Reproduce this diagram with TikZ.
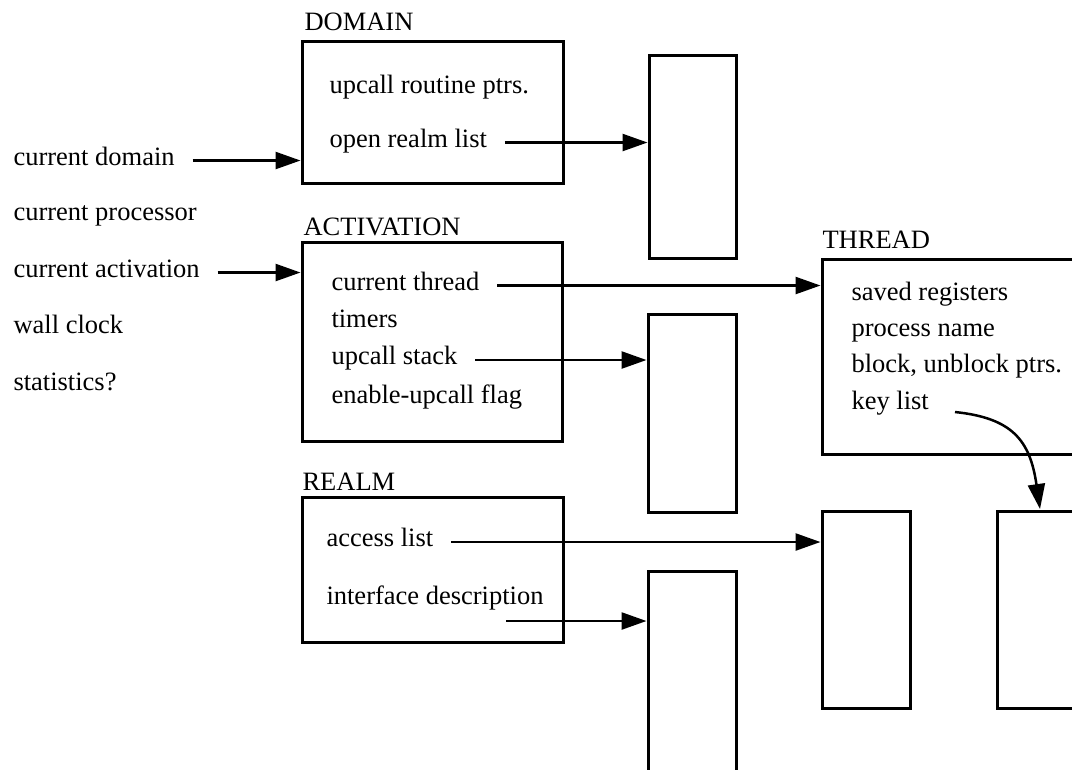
\documentclass[tikz,border=0pt]{standalone}
\usepackage{fontspec}
\setmainfont{Liberation Serif}
\usepackage{tikz}
\usetikzlibrary{arrows.meta, fit, positioning}

\begin{document}
\begin{tikzpicture}[
		x=0.4pt, y=-0.4pt,
		font=\fontsize{10.6}{13}\selectfont,
		box/.style={draw, line width=1.2pt, inner sep=0pt, rectangle},
		title/.style={anchor=base west, inner sep=0pt},
		field/.style={anchor=west, inner sep=0pt, text height=3.6pt, text depth=0pt},
		ptr/.style={-{Triangle[length=10pt, width=6.8pt]}, line width=1pt, shorten <=7pt},
		]
	
		\clip (0,0) rectangle (1072,769);
	
		% left column
		\node[field] (curdom) at (13, 160.5) {current domain};
		\node[field] (curproc) at (13, 215.5) {current processor};
		\node[field] (curact) at (13, 272.5) {current activation};
		\node[field] (wallclk) at (13, 328.5) {wall clock};
		\node[field] (stats) at (13, 385.5) {statistics?};
	
		% domain
		\node[title] (domtitle) at (304, 30) {DOMAIN};
		\node[box, fit={(302,41) (563,183)}] (domain) {};
		\node[field] (upcptrs) at (329, 88.5) {upcall routine ptrs.};
		\node[field] (openrealm) at (329, 142.5) {open realm list};
	
		% activation
		\node[title] (acttitle) at (303, 235) {ACTIVATION};
		\node[box, fit={(302,242) (562,441)}] (activation) {};
		\node[field] (curthread) at (331, 285.5) {current thread};
		\node[field] (timers) at (331, 322.5) {timers};
		\node[field] (upcstack) at (331, 360) {upcall stack};
		\node[field] (enflag) at (331, 398.5) {enable-upcall flag};
	
		% realm
		\node[title] (realmtitle) at (302, 490) {REALM};
		\node[box, fit={(302,497) (563,642)}] (realm) {};
		\node[field] (acclist) at (326, 542) {access list};
		\node[field] (ifdesc) at (326, 599.5) {interface description};
	
		% thread
		\node[title] (thrtitle) at (822, 248) {THREAD};
		\node[box, fit={(822,259) (1095,454)}] (thread) {};
		\node[field] (savedregs) at (851, 296) {saved registers};
		\node[field] (procname) at (851, 332) {process name};
		\node[field] (blkptrs) at (851, 368) {block, unblock ptrs.};
		\node[field] (keylist) at (851, 404.5) {key list};
	
		% tables
		\node[box, fit={(649,55) (736,258)}] (realmtab) {};
		\node[box, fit={(648,314) (736,512)}] (stacktab) {};
		\node[box, fit={(648,571) (736,800)}] (ifacetab) {};
		\node[box, fit={(822,511) (910,708)}] (accesstab) {};
		\node[box, fit={(997,511) (1095,708)}] (keytab) {};
	
		\coordinate (ifstart) at (506, 621);
		\coordinate (keystart) at (955, 412);
		\coordinate (keyend) at (1040, 509);
	
		\draw[ptr] (curdom.east) -- (curdom.east -| domain.west);
		\draw[ptr] (curact.east) -- (curact.east -| activation.west);
		\draw[ptr] (openrealm.east) -- (openrealm.east -| realmtab.west);
		\draw[ptr] (curthread.east) -- (curthread.east -| thread.west);
		\draw[ptr] (upcstack.east) -- (upcstack.east -| stacktab.west);
		\draw[ptr] (acclist.east) -- (acclist.east -| accesstab.west);
		\draw[ptr, shorten <=0pt] (ifstart) -- (ifstart -| ifacetab.west);
		\draw[ptr, shorten <=0pt] (keystart) .. controls (1012,418) and (1030,440) .. (keyend);
	
	\end{tikzpicture}
\end{document}
